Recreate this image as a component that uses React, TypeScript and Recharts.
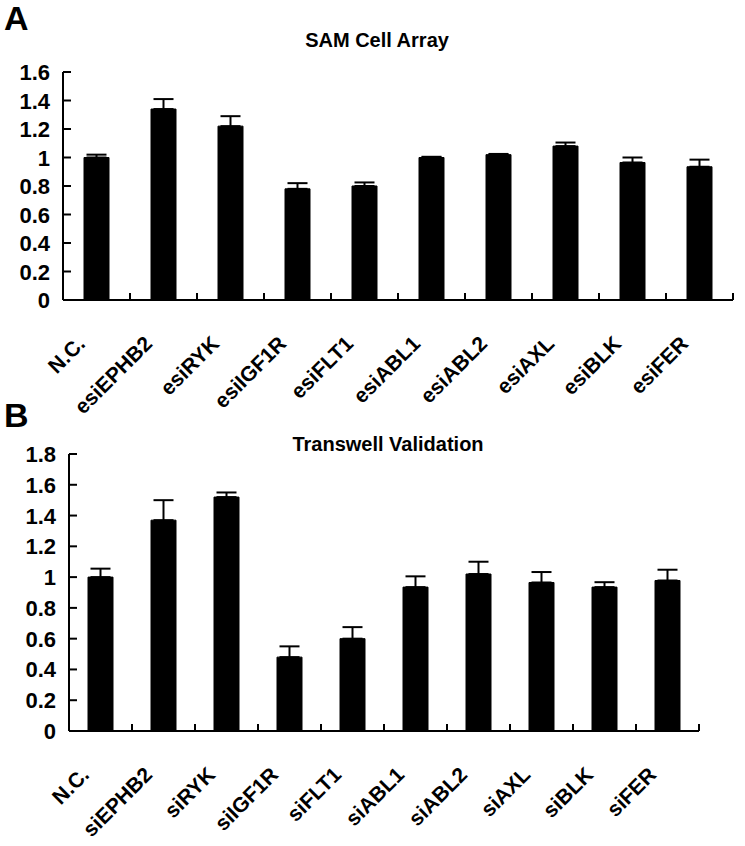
import { BarChart, Bar, XAxis, YAxis, ErrorBar } from "recharts";

// Panel A: SAM Cell Array
const categoriesA = ["N.C.", "esiEPHB2", "esiRYK", "esiIGF1R", "esiFLT1", "esiABL1", "esiABL2", "esiAXL", "esiBLK", "esiFER"];
const valuesA = [1.0, 1.34, 1.22, 0.78, 0.8, 1.0, 1.02, 1.08, 0.965, 0.935];
const errorsA = [0.02, 0.07, 0.07, 0.04, 0.025, 0.005, 0.005, 0.025, 0.035, 0.05];
const ticksA = [0, 0.2, 0.4, 0.6, 0.8, 1, 1.2, 1.4, 1.6];

// Panel B: Transwell Validation
const categoriesB = ["N.C.", "siEPHB2", "siRYK", "siIGF1R", "siFLT1", "siABL1", "siABL2", "siAXL", "siBLK", "siFER"];
const valuesB = [1.0, 1.37, 1.52, 0.48, 0.6, 0.935, 1.02, 0.965, 0.935, 0.978];
const errorsB = [0.055, 0.13, 0.03, 0.07, 0.075, 0.07, 0.08, 0.068, 0.032, 0.07];
const ticksB = [0, 0.2, 0.4, 0.6, 0.8, 1, 1.2, 1.4, 1.6, 1.8];

const FONT = "Arial, 'Liberation Sans', Helvetica, sans-serif";

const toRows = (cats: string[], vals: number[], errs: number[]) =>
  cats.map((name, i) => ({ name, value: vals[i], err: [0, errs[i]] }));

const dataA = toRows(categoriesA, valuesA, errorsA);
const dataB = toRows(categoriesB, valuesB, errorsB);

const YTick = (props: any) => {
  const { x, y, payload } = props;
  return (
    <g>
      <line x1={x} x2={x + 8} y1={y} y2={y} stroke="#000" strokeWidth={2} />
      <text x={x - 13} y={y} dy={8} textAnchor="end" fontSize={22} fontWeight="bold" fontFamily={FONT} fill="#000">
        {payload.value}
      </text>
    </g>
  );
};

// category label rotated -45deg, plus a small upward tick at the right edge of each band
const makeXTick = (halfBand: number) => (props: any) => {
  const { x, y, payload } = props;
  const lx = x - 10;
  const ly = y + 45;
  return (
    <g>
      <line x1={x + halfBand} x2={x + halfBand} y1={y} y2={y - 7} stroke="#000" strokeWidth={2} />
      <text
        x={lx}
        y={ly}
        textAnchor="end"
        fontSize={21}
        fontWeight="bold"
        fontFamily={FONT}
        fill="#000"
        transform={`rotate(-45 ${lx} ${ly})`}
      >
        {payload.value}
      </text>
    </g>
  );
};

const Panel = ({ data, ticks, max, width, height, margin, yWidth, xHeight }: any) => {
  const plotW = width - yWidth - margin.right - margin.left;
  const halfBand = plotW / data.length / 2;
  return (
    <BarChart width={width} height={height} data={data} margin={margin} barSize={25}>
      <XAxis
        dataKey="name"
        interval={0}
        height={xHeight}
        tickLine={false}
        tickSize={0}
        tickMargin={0}
        axisLine={{ stroke: "#000", strokeWidth: 2 }}
        tick={makeXTick(halfBand)}
      />
      <YAxis
        width={yWidth}
        domain={[0, max]}
        ticks={ticks}
        interval={0}
        tickLine={false}
        tickSize={0}
        tickMargin={0}
        axisLine={{ stroke: "#000", strokeWidth: 2 }}
        tick={<YTick />}
      />
      <Bar dataKey="value" fill="#000" stroke="#000" isAnimationActive={false}>
        <ErrorBar dataKey="err" direction="y" width={10} strokeWidth={2} stroke="#000" isAnimationActive={false} />
      </Bar>
    </BarChart>
  );
};

export default function App() {
  return (
    <div style={{ position: "absolute", left: 0, top: 0, width: 745, height: 846, background: "#fff" }}>
      <div style={{ position: "absolute", left: 0, top: 0 }}>
        <BarChartA />
      </div>
      <div style={{ position: "absolute", left: 0, top: 425 }}>
        <BarChartB />
      </div>
      <svg width={745} height={846} style={{ position: "absolute", left: 0, top: 0, pointerEvents: "none" }}>
        <text x={4} y={30} fontSize={34} fontWeight="bold" fontFamily={FONT} fill="#000">A</text>
        <text x={4} y={427} fontSize={34} fontWeight="bold" fontFamily={FONT} fill="#000">B</text>
        <text x={377} y={47} textAnchor="middle" fontSize={20} fontWeight="bold" fontFamily={FONT} fill="#000">
          SAM Cell Array
        </text>
        <text x={388} y={451} textAnchor="middle" fontSize={20} fontWeight="bold" fontFamily={FONT} fill="#000">
          Transwell Validation
        </text>
      </svg>
    </div>
  );
}

function BarChartA() {
  // plot area: x 63..733, y 72..300
  return (
    <Panel
      data={dataA}
      ticks={ticksA}
      max={1.6}
      width={745}
      height={425}
      yWidth={63}
      xHeight={125}
      margin={{ top: 72, right: 12, left: 0, bottom: 0 }}
    />
  );
}

function BarChartB() {
  // plot area: x 69..699, y 454..731 (chart top at 425)
  return (
    <Panel
      data={dataB}
      ticks={ticksB}
      max={1.8}
      width={745}
      height={421}
      yWidth={69}
      xHeight={115}
      margin={{ top: 29, right: 46, left: 0, bottom: 0 }}
    />
  );
}
